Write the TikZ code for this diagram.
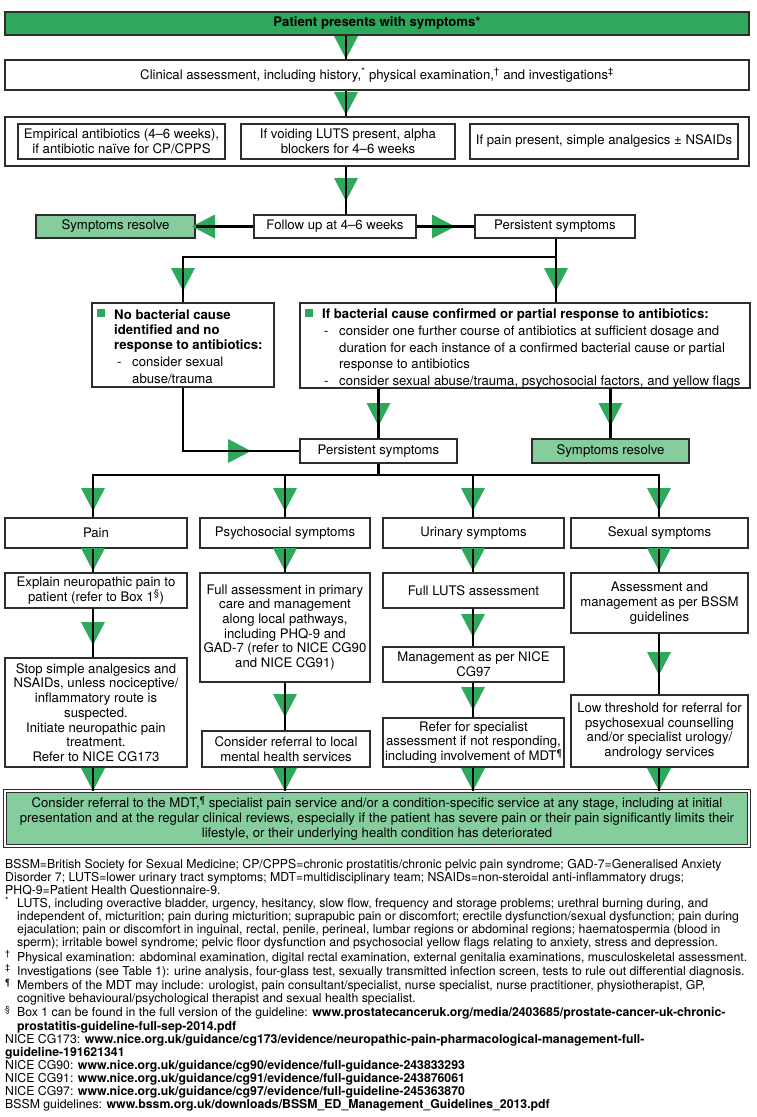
\documentclass[tikz,border=0pt]{standalone}
\usepackage{fontspec}
\setmainfont{TeX Gyre Heros}
\definecolor{gA}{RGB}{46,168,90}
\definecolor{gB}{RGB}{133,205,156}
\definecolor{bd}{RGB}{45,45,45}
\newlength\mylenA
\newlength\mylenB
\AtBeginDocument{%
\settowidth\mylenA{\normalfont\fontsize{20}{24}\selectfont Clinical assessment, including history,\textsuperscript{*} physical examination,\textsuperscript{†} and investigations\textsuperscript{‡}}%
\settowidth\mylenB{\normalfont\fontsize{20}{24}\selectfont Physical examination: abdominal examination, digital rectal examination, external genitalia examinations, musculoskeletal assessment.}%
\pgfmathsetmacro\bxsize{20*473/\mylenA}\global\let\bxsize\bxsize
\pgfmathsetmacro\fnsize{20*730/\mylenB}\global\let\fnsize\fnsize}
\newcommand\bxf{\fontsize{\bxsize}{14.7}\selectfont}
\newcommand\mdf{\fontsize{\bxsize}{15}\selectfont}
\newcommand\fnf{\fontsize{\fnsize}{13.1}\selectfont}
\newcommand\bx[7]{\node[#6, minimum width=#4pt-#2pt, minimum height=#5pt-#3pt] (#1) at ({(#2+#4)/2},{(#3+#5)/2}) {#7};}
\newcommand\fm[1]{\makebox[12pt][l]{\textsuperscript{#1}}}
\newcommand\ind{\hspace*{12pt}}
\begin{document}
\begin{tikzpicture}[x=1pt,y=-1pt,
  box/.style={draw=bd, line width=1.2pt, fill=white, inner sep=0pt, align=center, font=\bxf},
  gbox/.style={box, fill=gA},
  lbox/.style={box, fill=gB},
  mdtbox/.style={box, fill=gB, double=white, double distance=1.2pt, line width=1pt, font=\mdf},
  conn/.style={line width=2.3pt, black},
  txt/.style={inner sep=0pt, font=\bxf, anchor=base west},
  tri down/.pic={\fill[gA] (-12,0) -- (12,0) -- (0,23) -- cycle;},
  tri right/.pic={\fill[gA] (0,-12) -- (0,12) -- (23,0) -- cycle;},
  tri left/.pic={\fill[gA] (0,-12) -- (0,12) -- (-23,0) -- cycle;},
]
\useasboundingbox (0,0) rectangle (756,1117);
\fill[white] (0,0) rectangle (756,1117);

% coordinates
\coordinate (cx) at (346,0);
\coordinate (jb) at (556,257);
\coordinate (jc) at (0,475);
\coordinate (c1) at (93,0);
\coordinate (c2) at (285,0);
\coordinate (c3) at (473,0);
\coordinate (c4) at (659,0);

% boxes
\bx{top}{5}{12}{749}{35}{gbox}{\bfseries Patient presents with symptoms*}
\bx{clin}{5}{60}{749}{90}{box}{Clinical assessment, including history,\textsuperscript{*} physical examination,\textsuperscript{†} and investigations\textsuperscript{‡}}
\bx{outer}{5}{117}{749}{166}{box}{}
\bx{eab}{18}{124}{225}{159}{box}{Empirical antibiotics (4–6 weeks),\\if antibiotic naïve for CP/CPPS}
\bx{alpha}{241}{124}{455}{159}{box}{If voiding LUTS present, alpha\\blockers for 4–6 weeks}
\bx{anal}{470}{124}{738}{159}{box}{If pain present, simple analgesics ± NSAIDs}
\bx{follow}{254}{215}{416}{238}{box}{Follow up at 4–6 weeks}
\bx{res1}{36}{215}{195}{238}{lbox}{Symptoms resolve}
\bx{pers1}{475}{215}{635}{238}{box}{Persistent symptoms}
\bx{nobact}{92}{303}{274}{387}{box}{}
\bx{bact}{300}{303}{750}{388}{box}{}
\bx{pers2}{300}{439}{457}{463}{box}{Persistent symptoms}
\bx{res2}{532}{439}{689}{463}{lbox}{Symptoms resolve}
\bx{pain}{5}{518}{187}{548}{box}{Pain}
\bx{psy}{200}{518}{370}{548}{box}{Psychosocial symptoms}
\bx{uri}{383}{518}{564}{548}{box}{Urinary symptoms}
\bx{sex}{571}{518}{748}{548}{box}{Sexual symptoms}
\bx{explain}{5}{573}{187}{608}{box}{Explain neuropathic pain to\\patient (refer to Box 1\textsuperscript{§})}
\bx{stop}{5}{658}{187}{767}{box}{Stop simple analgesics and\\NSAIDs, unless nociceptive/\\inflammatory route is\\suspected.\\Initiate neuropathic pain\\treatment.\\Refer to NICE CG173}
\bx{fullpsy}{200}{573}{370}{682}{box}{Full assessment in primary\\care and management\\along local pathways,\\including PHQ-9 and\\GAD-7 (refer to NICE CG90\\and NICE CG91)}
\bx{mental}{202}{731}{370}{767}{box}{Consider referral to local\\mental health services}
\bx{luts}{383}{573}{564}{608}{box}{Full LUTS assessment}
\bx{cg97}{383}{647}{564}{682}{box}{Management as per NICE\\CG97}
\bx{spec}{383}{718}{564}{767}{box}{Refer for specialist\\assessment if not responding,\\including involvement of MDT\textsuperscript{¶}}
\bx{bssm}{571}{573}{748}{633}{box}{Assessment and\\management as per BSSM\\guidelines}
\bx{low}{571}{695}{748}{767}{box}{Low threshold for referral for\\psychosexual counselling\\and/or specialist urology/\\andrology services}
\bx{mdt}{5}{791}{749}{846}{mdtbox}{Consider referral to the MDT,\textsuperscript{¶} specialist pain service and/or a condition-specific service at any stage, including at initial\\presentation and at the regular clinical reviews, especially if the patient has severe pain or their pain significantly limits their\\lifestyle, or their underlying health condition has deteriorated}

% text inside the two decision boxes
\fill[gA] (97,309) rectangle (105,317);
\node[txt] (nb1) at (114,319) {\bfseries No bacterial cause};
\node[txt] (nb2) at (114,334) {\bfseries identified and no};
\node[txt] (nb3) at (114,349) {\bfseries response to antibiotics:};
\node[txt] (nbd) at (117,366) {-};
\node[txt] (nb4) at (132,366) {consider sexual};
\node[txt] (nb5) at (132,383) {abuse/trauma};
\fill[gA] (305,309) rectangle (313,317);
\node[txt] (ba1) at (322,318) {\bfseries If bacterial cause confirmed or partial response to antibiotics:};
\node[txt] (bad1) at (324,335) {-};
\node[txt] (ba2) at (339,335) {consider one further course of antibiotics at sufficient dosage and};
\node[txt] (ba3) at (339,352) {duration for each instance of a confirmed bacterial cause or partial};
\node[txt] (ba4) at (339,368) {response to antibiotics};
\node[txt] (bad2) at (324,385) {-};
\node[txt] (ba5) at (339,385) {consider sexual abuse/trauma, psychosocial factors, and yellow flags};

% triangles
\foreach \x/\y in {346/36, 346/92, 346/178, 183/268, 556/268, 378.5/403, 610.5/403,
  93/488, 285/488, 473/488, 659/488, 93/548, 285/548, 473/548, 659/548,
  93/622, 285/694, 473/614, 473/687, 659/652, 93/768, 285/768, 473/768, 659/768}
  \pic at (\x,\y) {tri down};
\pic at (215,226.5) {tri left};
\pic at (432,226.5) {tri right};
\pic at (228,451) {tri right};

% connectors
\draw[conn] (top.south -| cx) -- (clin.north -| cx);
\draw[conn] (clin.south -| cx) -- (outer.north -| cx);
\draw[conn] (outer.south -| cx) -- (follow.north -| cx);
\draw[conn] (follow.west) -- (res1.east);
\draw[conn] (follow.east) -- (pers1.west);
\draw[conn] (pers1.south -| jb) -- (bact.north -| jb);
\draw[conn] (jb) -| (nobact.north);
\draw[conn] (nobact.south) |- (pers2.west);
\draw[conn] (bact.south -| pers2.north) -- (pers2.north);
\draw[conn] (bact.south -| res2.north) -- (res2.north);
\draw[conn] (pers2.south) -- (pers2.south |- jc);
\draw[conn] (c1 |- pain.north) -- (c1 |- jc) -- (c4 |- jc) -- (c4 |- sex.north);
\draw[conn] (c2 |- psy.north) -- (c2 |- jc);
\draw[conn] (c3 |- uri.north) -- (c3 |- jc);
\draw[conn] (c1 |- pain.south) -- (c1 |- explain.north);
\draw[conn] (c1 |- explain.south) -- (c1 |- stop.north);
\draw[conn] (c1 |- stop.south) -- (c1 |- mdt.north);
\draw[conn] (c2 |- psy.south) -- (c2 |- fullpsy.north);
\draw[conn] (c2 |- fullpsy.south) -- (c2 |- mental.north);
\draw[conn] (c2 |- mental.south) -- (c2 |- mdt.north);
\draw[conn] (c3 |- uri.south) -- (c3 |- luts.north);
\draw[conn] (c3 |- luts.south) -- (c3 |- cg97.north);
\draw[conn] (c3 |- cg97.south) -- (c3 |- spec.north);
\draw[conn] (c3 |- spec.south) -- (c3 |- mdt.north);
\draw[conn] (c4 |- sex.south) -- (c4 |- bssm.north);
\draw[conn] (c4 |- bssm.south) -- (c4 |- low.north);
\draw[conn] (c4 |- low.south) -- (c4 |- mdt.north);

% footnotes
\node[anchor=north west, inner sep=0pt, align=left, font=\fnf] (notes) at (5,859) {%
BSSM=British Society for Sexual Medicine; CP/CPPS=chronic prostatitis/chronic pelvic pain syndrome; GAD-7=Generalised Anxiety\\
Disorder 7; LUTS=lower urinary tract symptoms; MDT=multidisciplinary team; NSAIDs=non-steroidal anti-inflammatory drugs;\\
PHQ-9=Patient Health Questionnaire-9.\\
\fm{*}LUTS, including overactive bladder, urgency, hesitancy, slow flow, frequency and storage problems; urethral burning during, and\\
\ind independent of, micturition; pain during micturition; suprapubic pain or discomfort; erectile dysfunction/sexual dysfunction; pain during\\
\ind ejaculation; pain or discomfort in inguinal, rectal, penile, perineal, lumbar regions or abdominal regions; haematospermia (blood in\\
\ind sperm); irritable bowel syndrome; pelvic floor dysfunction and psychosocial yellow flags relating to anxiety, stress and depression.\\
\fm{†}Physical examination: abdominal examination, digital rectal examination, external genitalia examinations, musculoskeletal assessment.\\
\fm{‡}Investigations (see Table 1): urine analysis, four-glass test, sexually transmitted infection screen, tests to rule out differential diagnosis.\\
\fm{¶}Members of the MDT may include: urologist, pain consultant/specialist, nurse specialist, nurse practitioner, physiotherapist, GP,\\
\ind cognitive behavioural/psychological therapist and sexual health specialist.\\
\fm{§}Box 1 can be found in the full version of the guideline: \textbf{www.prostatecanceruk.org/media/2403685/prostate-cancer-uk-chronic-}\\
\ind\textbf{prostatitis-guideline-full-sep-2014.pdf}\\
NICE CG173: \textbf{www.nice.org.uk/guidance/cg173/evidence/neuropathic-pain-pharmacological-management-full-}\\
\textbf{guideline-191621341}\\
NICE CG90: \textbf{www.nice.org.uk/guidance/cg90/evidence/full-guidance-243833293}\\
NICE CG91: \textbf{www.nice.org.uk/guidance/cg91/evidence/full-guidance-243876061}\\
NICE CG97: \textbf{www.nice.org.uk/guidance/cg97/evidence/full-guideline-245363870}\\
BSSM guidelines: \textbf{www.bssm.org.uk/downloads/BSSM\_ED\_Management\_Guidelines\_2013.pdf}};
\end{tikzpicture}
\end{document}
